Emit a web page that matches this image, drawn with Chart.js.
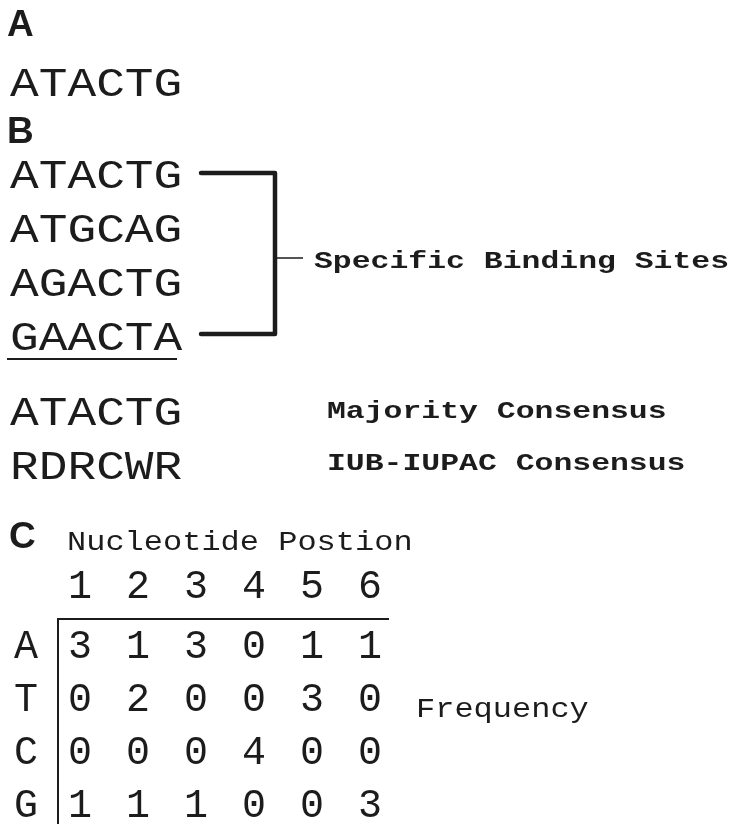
<!DOCTYPE html>
<html lang="en">
  <head>
    <meta charset="UTF-8" />
    <title>Binding sites, consensus and frequency matrix</title>
    <style>
      html,
      body {
        margin: 0;
        padding: 0;
        background: #fff;
      }
      #motifChart {
        display: block;
      }
    </style>
    <script src="https://cdn.jsdelivr.net/npm/chart.js"></script>
  </head>
  <body>
    <canvas id="motifChart" width="731" height="825"></canvas>
    <script>
      // panel A and B sequences
      const singleSite = "ATACTG";
      const bindingSites = ["ATACTG", "ATGCAG", "AGACTG", "GAACTA"];
      const majorityConsensus = "ATACTG";
      const iupacConsensus = "RDRCWR";

      // panel C: counts per nucleotide at each position
      const positions = [1, 2, 3, 4, 5, 6];
      const nucleotides = ["A", "T", "C", "G"];
      const freqA = [3, 1, 3, 0, 1, 1];
      const freqT = [0, 2, 0, 0, 3, 0];
      const freqC = [0, 0, 0, 4, 0, 0];
      const freqG = [1, 1, 1, 0, 0, 3];
      const frequencies = [freqA, freqT, freqC, freqG];

      const INK = "#1c1c1c";
      const MONO = "'Liberation Mono', 'Courier New', monospace";
      const SANS = "'Liberation Sans', Arial, sans-serif";

      // courier-like text: stretch the mono face sideways a bit
      function monoText(ctx, text, x, y, size, sx, weight) {
        ctx.save();
        ctx.font = (weight || "normal") + " " + size + "px " + MONO;
        ctx.textAlign = "left";
        ctx.textBaseline = "alphabetic";
        ctx.translate(x, y);
        ctx.scale(sx, 1);
        ctx.fillText(text, 0, 0);
        ctx.restore();
      }

      function panelLetter(ctx, text, x, y) {
        ctx.save();
        ctx.font = "bold 37px " + SANS;
        ctx.textAlign = "left";
        ctx.textBaseline = "alphabetic";
        ctx.fillText(text, x, y);
        ctx.restore();
      }

      const figurePlugin = {
        id: "figureText",
        afterDraw(chart) {
          const ctx = chart.ctx;
          ctx.save();
          ctx.fillStyle = INK;
          ctx.strokeStyle = INK;

          // A
          panelLetter(ctx, "A", 7, 36);
          monoText(ctx, singleSite, 10, 96, 41, 1.167);

          // B
          panelLetter(ctx, "B", 7, 143);
          bindingSites.forEach((s, i) => {
            monoText(ctx, s, 10, 188 + i * 54, 41, 1.167);
          });
          ctx.lineWidth = 2;
          ctx.beginPath();
          ctx.moveTo(7, 359);
          ctx.lineTo(177, 359);
          ctx.stroke();

          // bracket
          ctx.lineWidth = 4.5;
          ctx.lineCap = "round";
          ctx.lineJoin = "round";
          ctx.beginPath();
          ctx.moveTo(201, 173);
          ctx.lineTo(275, 173);
          ctx.lineTo(275, 334);
          ctx.lineTo(201, 334);
          ctx.stroke();
          ctx.lineWidth = 1.5;
          ctx.lineCap = "butt";
          ctx.beginPath();
          ctx.moveTo(276, 258);
          ctx.lineTo(303, 258);
          ctx.stroke();
          monoText(ctx, "Specific Binding Sites", 314, 268, 24, 1.31, "bold");

          monoText(ctx, majorityConsensus, 10, 425, 41, 1.167);
          monoText(ctx, iupacConsensus, 10, 479, 41, 1.167);
          monoText(ctx, "Majority Consensus", 327, 418, 24, 1.31, "bold");
          monoText(ctx, "IUB-IUPAC Consensus", 327, 470, 24, 1.31, "bold");

          // C
          panelLetter(ctx, "C", 9, 548);
          monoText(ctx, "Nucleotide Postion", 67, 550, 27, 1.185);
          monoText(ctx, "Frequency", 416, 717, 27, 1.185);

          // counts, placed through the scales
          ctx.font = "40px " + MONO;
          ctx.textAlign = "center";
          ctx.textBaseline = "middle";
          chart.data.datasets.forEach((ds, di) => {
            const meta = chart.getDatasetMeta(di);
            meta.data.forEach((pt, i) => {
              ctx.fillText(String(ds.data[i].v), pt.x, pt.y);
            });
          });
          ctx.restore();
        },
      };

      const datasets = nucleotides.map((n, r) => ({
        label: n,
        data: positions.map((p, i) => ({ x: p, y: r, v: frequencies[r][i] })),
        pointRadius: 0,
        pointHoverRadius: 0,
        showLine: false,
      }));

      const tickFont = { family: MONO, size: 40 };

      new Chart(document.getElementById("motifChart"), {
        type: "scatter",
        data: { datasets: datasets },
        options: {
          responsive: false,
          animation: false,
          events: [],
          devicePixelRatio: 1,
          layout: { padding: { top: 560, left: 0, right: 343, bottom: 2 } },
          plugins: {
            legend: { display: false },
            tooltip: { enabled: false },
          },
          scales: {
            x: {
              type: "linear",
              position: "top",
              min: 0.621,
              max: 6.31,
              afterFit: (s) => {
                s.height = 59;
                s.paddingLeft = 0;
                s.paddingRight = 0;
              },
              afterBuildTicks: (s) => {
                s.ticks = positions.map((p) => ({ value: p }));
              },
              ticks: {
                font: tickFont,
                color: INK,
                padding: 8,
                maxRotation: 0,
                autoSkip: false,
                callback: (v) => String(v),
              },
              grid: { drawOnChartArea: false, drawTicks: false },
              border: { display: true, width: 2, color: INK },
            },
            y: {
              type: "linear",
              position: "left",
              reverse: true,
              min: -0.54,
              max: 3.31,
              afterFit: (s) => {
                s.width = 58;
                s.paddingTop = 0;
                s.paddingBottom = 0;
              },
              afterBuildTicks: (s) => {
                s.ticks = nucleotides.map((n, i) => ({ value: i }));
              },
              ticks: {
                font: tickFont,
                color: INK,
                padding: 20,
                autoSkip: false,
                callback: (v) => nucleotides[v],
              },
              grid: { drawOnChartArea: false, drawTicks: false },
              border: { display: true, width: 2, color: INK },
            },
          },
        },
        plugins: [figurePlugin],
      });
    </script>
  </body>
</html>
